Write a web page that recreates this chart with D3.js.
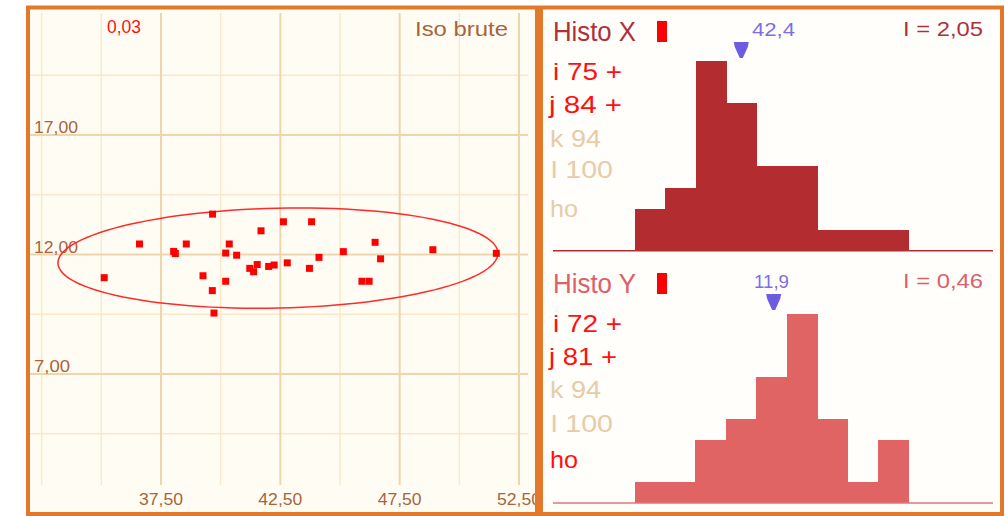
<!DOCTYPE html>
<html>
<head>
<meta charset="utf-8">
<script src="https://cdn.jsdelivr.net/npm/d3@7"></script>
<style>
  body { margin: 0; background: #fff; }
  text { font-family: "Liberation Sans", "DejaVu Sans", sans-serif; }
</style>
</head>
<body>
<script>
// scatter points (x, y)
var ptsX = [39.66, 42.63, 43.81, 41.69, 36.60, 38.56, 40.36, 38.03, 38.10, 40.21, 40.67,
            45.14, 46.47, 48.89, 51.55, 44.12, 46.70, 35.12, 39.26, 40.21, 39.65, 39.72,
            41.22, 41.38, 41.53, 42.01, 42.24, 42.79, 43.72, 45.92, 46.22];
var ptsY = [13.69, 13.37, 13.37, 12.99, 12.44, 12.44, 12.44, 12.13, 12.04, 12.06, 11.97,
            12.12, 12.51, 12.20, 12.05, 11.88, 11.82, 11.03, 11.11, 10.88, 10.49, 9.55,
            11.42, 11.28, 11.58, 11.50, 11.56, 11.65, 11.42, 10.88, 10.88];

var xTicks = [37.5, 42.5, 47.5, 52.5];
var xMinor = [32.5, 35, 40, 45, 50];
var yTicks = [7, 12, 17];
var yMinor = [4.5, 9.5, 14.5, 19.5];

// iso ellipse: centre, semi axes, angle (deg)
var ellCenter = [42.4, 11.85];
var ellAxes = [9.22, 2.09];
var ellAngle = 1.3;

// histograms
var histXEdges = [35.12, 37.17, 39.22, 41.27, 43.32, 45.37, 47.42, 49.47, 51.52, 53.57];
var histXCounts = [2, 3, 9, 7, 4, 4, 1, 1, 1];
var histYEdges = [9.55, 10.01, 10.47, 10.93, 11.39, 11.85, 12.31, 12.77, 13.23, 13.69];
var histYCounts = [1, 1, 3, 4, 6, 9, 4, 1, 3];
var histXMark = 42.3, histYMark = 11.65;
var histXMarkLabel = "42,4", histYMarkLabel = "11,9";
var histXInterval = "I = 2,05", histYInterval = "I = 0,46";
var histXRows = ["i 75 +", "j 84 +", "k 94", "l 100", "ho"];
var histYRows = ["i 72 +", "j 81 +", "k 94", "l 100", "ho"];

var width = 1005, height = 516;
var svg = d3.select('body').append('svg').attr('width', width).attr('height', height);

var fr = d3.formatLocale({decimal: ",", thousands: ".", grouping: [3], currency: ["", ""]});
var fmt = fr.format(".2f");

var orange = "#e4782a", brown = "#a8643c", tan = "#e6cca8";

// panels
svg.append("rect").attr("x", 28).attr("y", 7.5).attr("width", 509).attr("height", 506.5)
    .attr("fill", "#fffdf3").attr("stroke", orange).attr("stroke-width", 4);
svg.append("rect").attr("x", 541).attr("y", 7.5).attr("width", 461).attr("height", 506.5)
    .attr("fill", "#fffefb").attr("stroke", orange).attr("stroke-width", 4);

svg.append("clipPath").attr("id", "clipL").append("rect")
    .attr("x", 30).attr("y", 10).attr("width", 505).attr("height", 502);

// ---- scatter ----
var x = d3.scaleLinear().domain([37.5, 52.5]).range([161, 519]);
var y = d3.scaleLinear().domain([7, 17]).range([374, 135]);

var sc = svg.append("g").attr("clip-path", "url(#clipL)");

sc.selectAll(".vmin").data(xMinor).enter().append("line")
    .attr("x1", d => x(d)).attr("x2", d => x(d)).attr("y1", 13).attr("y2", 485)
    .attr("stroke", "#fae8c8").attr("stroke-width", 1.5);
sc.selectAll(".hmin").data(yMinor).enter().append("line")
    .attr("x1", 30).attr("x2", 528).attr("y1", d => y(d)).attr("y2", d => y(d))
    .attr("stroke", "#fae8c8").attr("stroke-width", 1.5);
sc.selectAll(".vmaj").data(xTicks).enter().append("line")
    .attr("x1", d => x(d)).attr("x2", d => x(d)).attr("y1", 13).attr("y2", 485)
    .attr("stroke", "#eed5ac").attr("stroke-width", 2);
sc.selectAll(".hmaj").data(yTicks).enter().append("line")
    .attr("x1", 30).attr("x2", 528).attr("y1", d => y(d)).attr("y2", d => y(d))
    .attr("stroke", "#eed5ac").attr("stroke-width", 2);

sc.selectAll(".ylab").data(yTicks).enter().append("text")
    .attr("x", 34).attr("y", d => y(d) - 2)
    .attr("font-size", 16).attr("fill", brown)
    .attr("textLength", d => d < 10 ? 36 : 44).attr("lengthAdjust", "spacingAndGlyphs")
    .text(d => fmt(d));
sc.selectAll(".xlab").data(xTicks).enter().append("text")
    .attr("x", d => x(d) - 22).attr("y", 505)
    .attr("font-size", 16).attr("fill", brown)
    .attr("textLength", 44).attr("lengthAdjust", "spacingAndGlyphs")
    .text(d => fmt(d));

sc.append("text").attr("x", 107).attr("y", 33).attr("font-size", 18).attr("fill", "#ff1010")
    .attr("textLength", 34).attr("lengthAdjust", "spacingAndGlyphs").text("0,03");
sc.append("text").attr("x", 415).attr("y", 36).attr("font-size", 20).attr("fill", brown)
    .attr("textLength", 93).attr("lengthAdjust", "spacingAndGlyphs").text("Iso brute");

// ellipse
var th = ellAngle * Math.PI / 180;
var ellPts = d3.range(0, 361, 3).map(function (a) {
    var t = a * Math.PI / 180;
    var ex = ellAxes[0] * Math.cos(t), ey = ellAxes[1] * Math.sin(t);
    return [ellCenter[0] + ex * Math.cos(th) - ey * Math.sin(th),
            ellCenter[1] + ex * Math.sin(th) + ey * Math.cos(th)];
});
sc.append("path").datum(ellPts)
    .attr("d", d3.line().x(d => x(d[0])).y(d => y(d[1])).curve(d3.curveLinearClosed))
    .attr("fill", "none").attr("stroke", "#ff2a2a").attr("stroke-width", 1.5);

sc.selectAll(".pt").data(ptsX).enter().append("rect")
    .attr("x", d => x(d) - 3.5).attr("y", (d, i) => y(ptsY[i]) - 3.5)
    .attr("width", 7).attr("height", 7).attr("fill", "#ff0000");

// ---- histograms ----
function histo(opts) {
    var hx = d3.scaleLinear().domain(opts.domain).range([553, 993]);
    var hy = d3.scaleLinear().domain([0, 9]).range([opts.base, opts.base - 189.5]);
    var g = svg.append("g");
    var bins = opts.counts.map((c, i) => ({c: c, x0: opts.edges[i], x1: opts.edges[i + 1]}));
    g.selectAll("rect.bar").data(bins).enter().append("rect")
        .attr("x", d => hx(d.x0)).attr("width", d => hx(d.x1) - hx(d.x0) + 0.5)
        .attr("y", d => hy(d.c)).attr("height", d => hy(0) - hy(d.c))
        .attr("fill", opts.color).attr("shape-rendering", "crispEdges");
    g.append("line").attr("x1", 553).attr("x2", 993).attr("y1", opts.base).attr("y2", opts.base)
        .attr("stroke", opts.lineColor).attr("stroke-width", 1.5);

    g.append("text").attr("x", 553).attr("y", opts.top + 20).attr("font-size", 27)
        .attr("fill", opts.titleColor).attr("textLength", 83).attr("lengthAdjust", "spacingAndGlyphs")
        .text(opts.title);
    g.append("rect").attr("x", 657).attr("y", opts.top).attr("width", 10).attr("height", 21)
        .attr("fill", "#ff0000");
    g.append("text").attr("x", 903).attr("y", opts.top + 15).attr("font-size", 21)
        .attr("fill", opts.titleColor).attr("textLength", 80).attr("lengthAdjust", "spacingAndGlyphs")
        .text(opts.interval);
    g.append("text").attr("x", opts.labelX).attr("y", opts.top + 15).attr("font-size", 19)
        .attr("fill", "#7b6ee6").attr("textLength", opts.labelW).attr("lengthAdjust", "spacingAndGlyphs")
        .text(opts.markLabel);
    g.append("path")
        .attr("transform", "translate(" + hx(opts.mark) + "," + (opts.top + 21) + ")")
        .attr("d", "M-7.5,0H7.5L6.5,5L1.5,16H-1.5L-6.5,5Z")
        .attr("fill", "#6c5ce0");

    g.selectAll("text.row").data(opts.rows).enter().append("text")
        .attr("class", "row")
        .attr("x", (d, i) => opts.rowX[i]).attr("y", (d, i) => opts.rowY[i])
        .attr("font-size", 24).attr("fill", (d, i) => opts.rowColors[i])
        .attr("textLength", (d, i) => opts.rowW[i]).attr("lengthAdjust", "spacingAndGlyphs")
        .text(d => d);
}

histo({
    domain: [29.62, 59.25], edges: histXEdges, counts: histXCounts, base: 250.7,
    color: "#b22c30", lineColor: "#b22c30", titleColor: "#b0303a", top: 21,
    title: "Histo X", interval: histXInterval, mark: histXMark, markLabel: histXMarkLabel,
    labelX: 752, labelW: 43, rows: histXRows,
    rowX: [553, 549, 550, 551, 550], rowY: [80, 113, 147, 178, 217],
    rowW: [69, 73, 51, 62, 28],
    rowColors: ["#ff1010", "#ff1010", tan, tan, tan]
});
histo({
    domain: [8.32, 14.96], edges: histYEdges, counts: histYCounts, base: 503,
    color: "#e06464", lineColor: "#e47478", titleColor: "#dc6068", top: 273,
    title: "Histo Y", interval: histYInterval, mark: histYMark, markLabel: histYMarkLabel,
    labelX: 754, labelW: 35, rows: histYRows,
    rowX: [553, 549, 550, 551, 550], rowY: [332, 365, 398, 432, 468],
    rowW: [69, 68, 51, 62, 28],
    rowColors: ["#ff1010", "#ff1010", tan, tan, "#ff1010"]
});
</script>
</body>
</html>
